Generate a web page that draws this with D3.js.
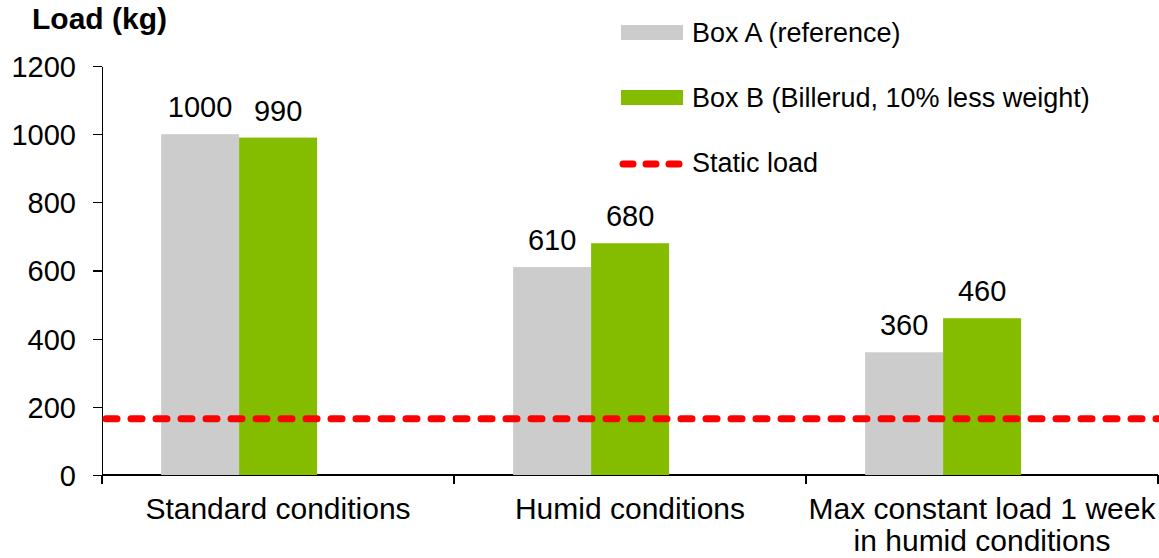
<!DOCTYPE html>
<html lang="en">
<head>
<meta charset="UTF-8">
<title>Load (kg)</title>
<script src="https://d3js.org/d3.v7.min.js"></script>
<style>
    body { margin: 0; background: #fff; }
    svg { display: block; font-family: "Liberation Sans", Arial, sans-serif; }
    .axis path, .axis line { stroke: #000; stroke-width: 1.3; shape-rendering: crispEdges; }
    .axis text { font-size: 29px; fill: #000; }
</style>
</head>
<body>
<svg id="chart"></svg>
<script>
// data
const categories = ["Standard conditions", "Humid conditions", "Max constant load 1 week|in humid conditions"];
const series = ["Box A (reference)", "Box B (Billerud, 10% less weight)"];
const boxA = [1000, 610, 360];
const boxB = [990, 680, 460];
const staticLoad = 165;
const yTicks = [0, 200, 400, 600, 800, 1000, 1200];
const colors = ["#cccccc", "#84bd00"];

const W = 1159, H = 558;
const svg = d3.select("#chart").attr("width", W).attr("height", H);

const x = d3.scaleBand().domain(categories).range([102, 1158]).padding(0);
const y = d3.scaleLinear().domain([0, 1200]).range([475, 66]);
// bars sit left of the band centre, like the original
const xs = d3.scaleBand().domain(series).range([x.bandwidth() * 0.168, x.bandwidth() * 0.611]).padding(0);

// y axis
svg.append("g")
    .attr("class", "axis")
    .attr("transform", "translate(102,0)")
    .call(d3.axisLeft(y).tickValues(yTicks).tickFormat(d3.format("d")).tickSize(9).tickPadding(17).tickSizeOuter(0))
    .call(g => g.selectAll("text").attr("dy", "0.36em"));

// x axis baseline + boundary ticks
const xa = svg.append("g").attr("class", "axis");
xa.append("line").attr("x1", x.range()[0]).attr("x2", x.range()[1]).attr("y1", y(0)).attr("y2", y(0));
const bounds = categories.map(c => x(c)).concat([x.range()[1]]);
xa.selectAll(".bt").data(bounds).enter().append("line")
    .attr("x1", d => d).attr("x2", d => d)
    .attr("y1", y(0)).attr("y2", y(0) + 9);

// category labels
categories.forEach(c => {
    const t = svg.append("text")
        .attr("x", x(c) + x.bandwidth() / 2)
        .attr("y", 519)
        .attr("text-anchor", "middle")
        .style("font-size", "30px");
    c.split("|").forEach((line, i) => {
        t.append("tspan").attr("x", x(c) + x.bandwidth() / 2).attr("dy", i ? 32 : 0).text(line);
    });
});

// bars
const seriesVals = [boxA, boxB];
series.forEach((s, si) => {
    const g = svg.append("g");
    g.selectAll("rect").data(seriesVals[si]).enter().append("rect")
        .attr("x", (d, i) => x(categories[i]) + xs(s))
        .attr("y", d => y(d))
        .attr("width", xs.bandwidth())
        .attr("height", d => y(0) - y(d))
        .attr("fill", colors[si]);
    g.selectAll("text").data(seriesVals[si]).enter().append("text")
        .attr("x", (d, i) => x(categories[i]) + xs(s) + xs.bandwidth() / 2)
        .attr("y", d => y(d) - 17)
        .attr("text-anchor", "middle")
        .style("font-size", "29px")
        .text(d => d);
});

// static load line
svg.append("line")
    .attr("x1", 106).attr("x2", 1158)
    .attr("y1", y(staticLoad)).attr("y2", y(staticLoad))
    .attr("stroke", "#ff0000").attr("stroke-width", 7)
    .attr("stroke-linecap", "round")
    .attr("stroke-dasharray", "11 14");

// title
svg.append("text")
    .attr("x", 32).attr("y", 29)
    .style("font-size", "30px").style("font-weight", "bold")
    .text("Load (kg)");

// legend
const legend = svg.append("g").attr("transform", "translate(621,0)");
series.forEach((s, i) => {
    legend.append("rect")
        .attr("x", 0).attr("y", 25 + i * 65)
        .attr("width", 62).attr("height", 15)
        .attr("fill", colors[i]);
    legend.append("text")
        .attr("x", 71).attr("y", 42 + i * 65)
        .style("font-size", "27px")
        .text(s);
});
legend.append("line")
    .attr("x1", 2).attr("x2", 60)
    .attr("y1", 164).attr("y2", 164)
    .attr("stroke", "#ff0000").attr("stroke-width", 7)
    .attr("stroke-linecap", "round")
    .attr("stroke-dasharray", "10 13");
legend.append("text")
    .attr("x", 71).attr("y", 172)
    .style("font-size", "27px")
    .text("Static load");
</script>
</body>
</html>
